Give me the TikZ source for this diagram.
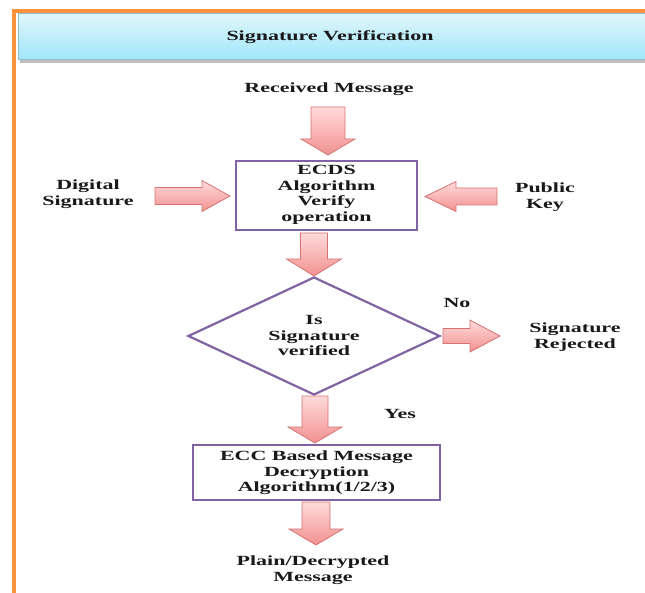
\documentclass[tikz,border=0pt]{standalone}
\usepackage{fontspec}
\setmainfont[FakeStretch=1.57]{Liberation Serif}
\usetikzlibrary{shapes.geometric}
\definecolor{frameorange}{RGB}{250,145,60}
\definecolor{boxpurple}{RGB}{128,100,162}
\definecolor{arrowborder}{RGB}{215,115,115}
\definecolor{arrowtop}{RGB}{255,218,218}
\definecolor{arrowbot}{RGB}{242,145,145}
\definecolor{titletop}{RGB}{224,246,252}
\definecolor{titlebot}{RGB}{160,230,250}
\definecolor{titleborder}{RGB}{140,190,205}
\definecolor{txt}{RGB}{25,25,25}
\newcommand{\myvarrow}[6]{%
  \draw[blockarrow] (#1-#5,#2) -- (#1+#5,#2) -- (#1+#5,#3) -- (#1+#6,#3) -- (#1,#4) -- (#1-#6,#3) -- (#1-#5,#3) -- cycle;}
\newcommand{\myharrow}[6]{%
  \draw[blockarrow] (#2,#1-#5) -- (#3,#1-#5) -- (#3,#1-#6) -- (#4,#1) -- (#3,#1+#6) -- (#3,#1+#5) -- (#2,#1+#5) -- cycle;}
\tikzset{
  lbl/.style={text=txt, font=\fontsize{14}{15.5}\selectfont\bfseries, align=center, inner sep=0pt},
  blockarrow/.style={draw=arrowborder, line width=0.8pt, top color=arrowtop, bottom color=arrowbot},
  procbox/.style={draw=boxpurple, line width=2.8pt, fill=white, rectangle, inner sep=0pt},
  decbox/.style={draw=boxpurple, line width=2.2pt, fill=white, diamond, inner sep=0pt}
}
\begin{document}
\begin{tikzpicture}[x=1pt,y=-1pt]
\useasboundingbox (0,0) rectangle (645,593);
% orange frame
\draw[frameorange, line width=3.2pt] (14,600) -- (14,11) -- (660,11);
% title banner
\fill[gray!50] (20,16) rectangle (662,63);
\shade[top color=titletop, bottom color=titlebot, draw=titleborder, line width=1pt] (18,14) rectangle (660,60);
\node[lbl] (title) at (330,37) {Signature Verification};
% texts
\node[lbl] (recv) at (329,89) {Received Message};
\node[procbox, minimum width=181pt, minimum height=69pt] (ecds) at (326.5,195.5) {};
\node[lbl] (ecdst) at (326.5,195) {ECDS\\Algorithm\\Verify\\operation};
\node[lbl] (dsig) at (88,194) {Digital\\Signature};
\node[lbl] (pkey) at (545,197) {Public\\Key};
\node[decbox, minimum width=252pt, minimum height=118pt] (dec) at (314,336) {};
\node[lbl] (dect) at (314,335.5) {Is\\Signature\\verified};
\node[lbl] (no) at (457,303) {No};
\node[lbl] (rej) at (575,337) {Signature\\Rejected};
\node[lbl] (yes) at (400,414) {Yes};
\node[procbox, line width=2.4pt, minimum width=247pt, minimum height=55pt] (ecc) at (316.5,472.5) {};
\node[lbl] (ecct) at (316.5,473) {ECC Based Message\\Decryption\\Algorithm(1/2/3)};
\node[lbl] (plain) at (313,570) {Plain/Decrypted\\Message};
% block arrows
\myvarrow{328}{107}{139}{155}{17}{27}
\myvarrow{314}{233}{259}{276}{13.5}{27.5}
\myvarrow{315}{396}{427}{443}{13}{27}
\myvarrow{316}{502}{529}{545}{14}{27}
\myharrow{196}{155}{202}{230}{8.5}{15.5}
\myharrow{196.5}{497}{456}{425}{8.5}{15}
\myharrow{336}{443}{470}{500}{7.5}{16}
\end{tikzpicture}
\end{document}
